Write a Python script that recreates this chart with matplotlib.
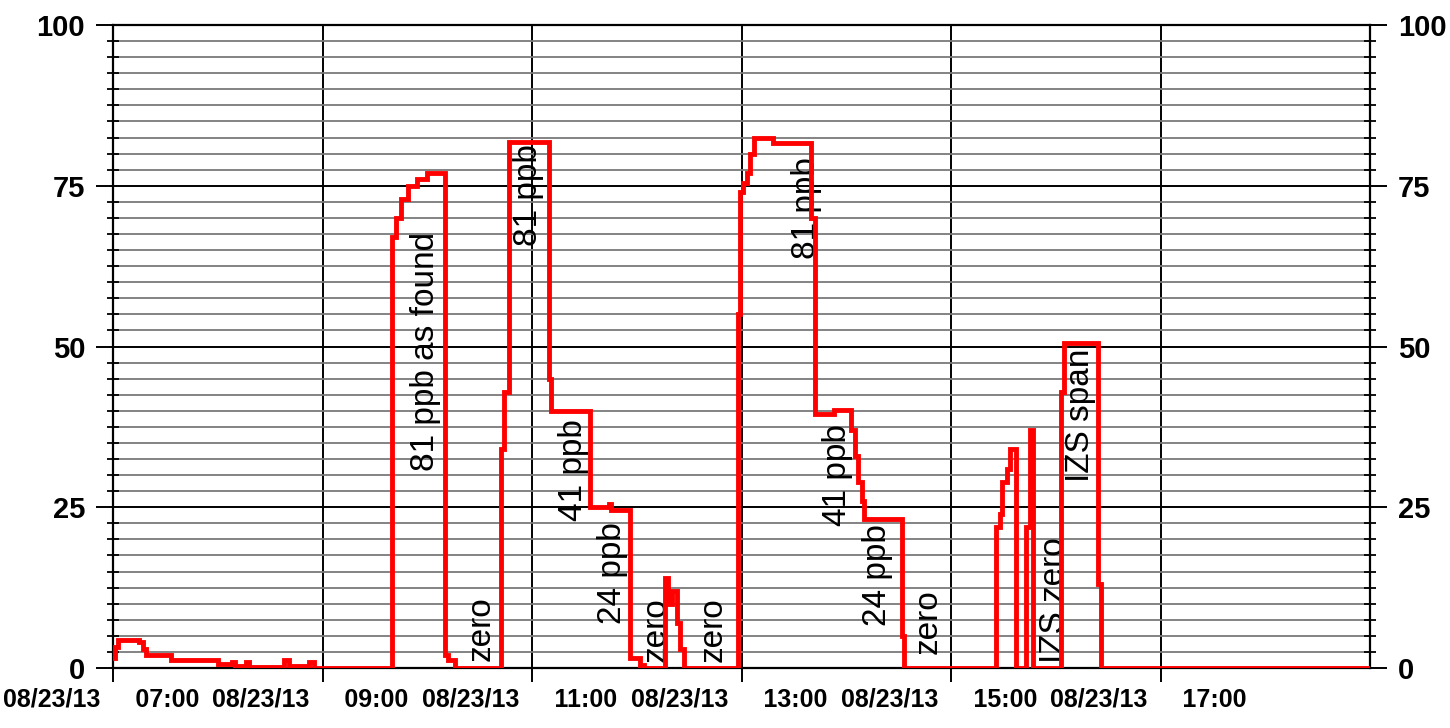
import matplotlib
matplotlib.use("Agg")
import matplotlib.pyplot as plt
import matplotlib.dates as mdates
from matplotlib import font_manager
from matplotlib.transforms import ScaledTranslation
from matplotlib.ticker import MultipleLocator, FixedLocator
import pandas as pd

# Analyzer trace, 08/23/13 (ppb); each value holds until the next time stamp
times = [
    "06:00", "06:01", "06:03", "06:15", "06:17", "06:19", "06:33", "07:00", "07:08", "07:10",
    "07:16", "07:18", "07:38", "07:41", "07:52", "07:55", "08:40", "08:42", "08:45", "08:49",
    "08:54", "09:00", "09:10", "09:12", "09:16", "09:42", "09:44", "09:47", "10:10", "10:11",
    "10:33", "10:44", "10:45", "10:56", "11:02", "11:04", "11:16", "11:18", "11:20", "11:23",
    "11:25", "11:27", "11:58", "11:59", "12:01", "12:03", "12:05", "12:07", "12:18", "12:40",
    "12:42", "12:53", "13:03", "13:05", "13:07", "13:09", "13:10", "13:32", "13:33", "14:26",
    "14:28", "14:29", "14:32", "14:34", "14:37", "14:43", "14:45", "14:47", "15:03", "15:05",
    "15:24", "15:26", "18:00",
]
values = [
    1.5, 3.3, 4.3, 4.0, 3.0, 2.0, 1.2, 0.6, 1.0, 0.3,
    1.0, 0.2, 1.3, 0.3, 1.0, 0.0, 67.0, 70.0, 73.0, 75.0,
    76.0, 77.0, 2.0, 1.2, 0.0, 34.0, 43.0, 81.8, 45.0, 40.0,
    25.0, 25.5, 24.5, 1.5, 0.5, 0.0, 14.0, 10.0, 12.0, 7.0,
    3.0, 0.0, 55.0, 74.0, 75.5, 77.0, 80.0, 82.5, 81.7, 70.0,
    39.5, 40.2, 37.0, 33.0, 29.0, 26.0, 23.2, 5.0, 0.0, 22.0,
    24.0, 29.0, 31.0, 34.0, 0.0, 22.0, 37.0, 0.0, 43.0, 50.5,
    13.0, 0.0, 0.0,
]

# Event annotations: label, time, vertical centre (ppb)
note_labels = ["81 ppb as found", "zero", "81 ppb", "41 ppb", "24 ppb", "zero", "zero",
               "81 ppb", "41 ppb", "24 ppb", "zero", "IZS zero", "IZS span"]
note_times = ["08:59", "09:31", "09:58", "10:24", "10:46", "11:11", "11:44",
              "12:37", "12:55", "13:18", "13:47", "14:59", "15:14"]
note_levels = [49.3, 6.2, 73.6, 30.8, 14.8, 5.9, 5.9,
               71.5, 30.0, 14.5, 7.2, 10.5, 39.3]

tick_hours = ["06:00", "08:00", "10:00", "12:00", "14:00", "16:00"]
tick_labels = ["08/23/13     07:00", "08/23/13     09:00", "08/23/13     11:00",
               "08/23/13     13:00", "08/23/13     15:00", "08/23/13     17:00"]
y_ticks = [0, 25, 50, 75, 100]

DAY = "2013-08-23 "


def stamp(t):
    return mdates.date2num(pd.Timestamp(DAY + t))


def font_or(family, fallback, weight="normal"):
    try:
        font_manager.findfont(font_manager.FontProperties(family=family, weight=weight),
                              fallback_to_default=False)
        return family
    except Exception:
        return fallback


sans = font_or("Liberation Sans", "DejaVu Sans")

fig = plt.figure(figsize=(14.5, 7.28), dpi=100)
ax = fig.add_axes([113 / 1450, 60 / 728, 1257 / 1450, 643 / 728])

x = [stamp(t) for t in times]
ax.plot(x, values, color="#ff0000", lw=3.5, drawstyle="steps-post",
        solid_joinstyle="miter", zorder=4)

ax.set_xlim(stamp("06:00"), stamp("18:00"))
ax.set_ylim(0, 100)

# horizontal grid: minor every 2.5, major every 25
ax.yaxis.set_major_locator(FixedLocator(y_ticks))
ax.yaxis.set_minor_locator(MultipleLocator(2.5))
ax.grid(which="minor", axis="y", color="#7a7a7a", lw=1.3, zorder=1)
ax.grid(which="major", axis="y", color="black", lw=1.4, zorder=1)

# vertical grid every two hours
ax.xaxis.set_major_locator(FixedLocator([stamp(t) for t in tick_hours]))
ax.grid(which="major", axis="x", color="black", lw=1.4, zorder=1)
ax.set_xticklabels(tick_labels)

for sp in ax.spines.values():
    sp.set_color("black")
    sp.set_linewidth(1.6)

ax.tick_params(axis="y", which="major", direction="out", length=12, width=1.4,
               left=True, right=True, labelleft=True, labelright=True, pad=8)
ax.tick_params(axis="y", which="minor", direction="inout", length=9, width=1.3,
               left=True, right=True)
ax.tick_params(axis="x", which="major", direction="inout", length=20, width=1.4,
               pad=4)

ax.set_yticklabels([str(v) for v in y_ticks])
for t in ax.yaxis.get_major_ticks():
    for lab in (t.label1, t.label2):
        lab.set_fontfamily(sans)
        lab.set_fontweight("bold")
        lab.set_fontsize(21)

shift = ScaledTranslation(-12 / 100, 0, fig.dpi_scale_trans)
for lab in ax.get_xticklabels():
    lab.set_fontfamily(sans)
    lab.set_fontweight("bold")
    lab.set_fontsize(18)
    lab.set_transform(lab.get_transform() + shift)

for text, t, lvl in zip(note_labels, note_times, note_levels):
    ax.text(stamp(t), lvl, text, rotation=90, ha="center", va="center",
            fontsize=24, family=sans, color="black", zorder=3)

fig.savefig("out.png", dpi=100, facecolor="white")
